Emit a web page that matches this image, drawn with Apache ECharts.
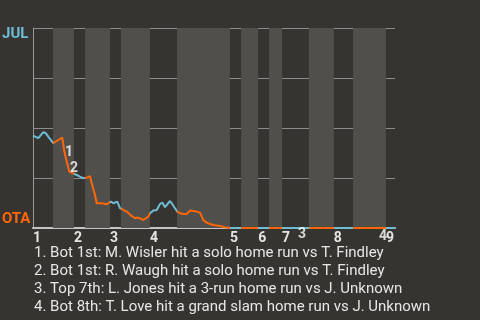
<!DOCTYPE html>
<html><head><meta charset="utf-8">
<script src="https://cdn.jsdelivr.net/npm/echarts@6/dist/echarts.min.js"></script>
<style>html,body{margin:0;padding:0;background:#363431;}#c{width:480px;height:320px;}</style>
</head><body><div id="c"></div>
<script>
// Half-inning boundaries along the game-progress axis (0..100)
var halfInningStarts = [0, 5.5, 11.3, 14.4, 21.3, 24.3, 32.3, 39.8, 54.4, 57.5, 62.2, 65.2, 68.8, 76.2, 83.1, 88.4, 97.5];
var gameEnd = 100;
var inningLabels = ['1','2','3','4','5','6','7','8','9'];
// Win probability for JUL (1 = JUL, 0 = OTA)
var progress = [0,1.46,2.85,3.51,4.42,5.61, 6.55,7.46,8.09,8.65,9.31,10.03,10.86, 12.07,12.98,13.9,
  15.0,15.75,16.22,17.13,17.6,18.98,19.42,20.36,20.99, 21.55,22.18,22.65,23.29,24.03,
  24.5,25.88,27.27,28.18,29.09,29.56,30.47,31.85, 32.32,33.23,34.17,35.08,35.72,36.46,36.93,37.85,38.31,39.23,39.86,
  40.61,41.52,42.46,43.37,43.84,45.22,46.13,47.04,47.98,48.9,50.28,51.66,53.04,54.42,
  57.5,62.2,65.2,68.8,76.2,83.1,88.4,97.5,100];
var winProb = [0.462,0.449,0.479,0.474,0.452,0.424, 0.435,0.445,0.452,0.382,0.332,0.282,0.275, 0.265,0.257,0.249,
  0.252,0.26,0.224,0.165,0.124,0.124,0.129,0.119,0.127, 0.132,0.124,0.119,0.132,0.099,
  0.094,0.082,0.06,0.049,0.052,0.049,0.04,0.057, 0.074,0.087,0.09,0.12,0.127,0.104,0.107,0.135,0.124,0.099,0.082,
  0.074,0.07,0.07,0.087,0.082,0.082,0.077,0.04,0.027,0.02,0.014,0.01,0.004,0,
  0,0,0,0,0,0,0,0,0];
// Home run markers
var hrNames = ['1','2','3','4'];
var hrProgress = [9.94, 11.33, 74.3, 96.7];
var hrProb = [0.38, 0.30, -0.03, -0.04];
var hrText = [
  '1. Bot 1st: M. Wisler hit a solo home run vs T. Findley',
  '2. Bot 1st: R. Waugh hit a solo home run vs T. Findley',
  '3. Top 7th: L. Jones hit a 3-run home run vs J. Unknown',
  '4. Bot 8th: T. Love hit a grand slam home run vs J. Unknown'
];
var awayTeam = 'JUL', homeTeam = 'OTA';
var awayColor = '#6cbcd6', homeColor = '#ff6608';

var chart = echarts.init(document.getElementById('c'), null, {renderer:'canvas'});
var lineData = progress.map(function(x,i){return [x, winProb[i]];});
var pieces = [], bands = [];
for (var i = 0; i < halfInningStarts.length; i++) {
  var a = halfInningStarts[i], b = (i+1 < halfInningStarts.length) ? halfInningStarts[i+1] : gameEnd + 1;
  pieces.push({gte: a, lt: b, color: (i % 2 === 0) ? awayColor : homeColor});
  if (i % 2 === 1) bands.push([{xAxis: a}, {xAxis: Math.min(b, gameEnd)}]);
}
var inningStarts = halfInningStarts.filter(function(v,i){return i % 2 === 0;});
var hrData = hrProgress.map(function(x,i){return {value:[x, hrProb[i]], name: hrNames[i]};});

var font = 'Roboto';
chart.setOption({
  backgroundColor: '#363431',
  animation: false,
  grid: {left: 33, right: 85, top: 28, bottom: 92, containLabel: false},
  xAxis: {
    type: 'value', min: 0, max: gameEnd, offset: 2,
    axisLine: {show: true, lineStyle: {color: '#c4c4c4', width: 2}},
    axisTick: {show: false},
    splitLine: {show: false},
    axisLabel: {
      customValues: inningStarts, align: 'left', margin: 1,
      color: '#e4e4e4', fontFamily: font, fontWeight: 'bold', fontSize: 14,
      formatter: function(v){
        var best = 0; for (var k = 0; k < inningStarts.length; k++) if (Math.abs(inningStarts[k]-v) < Math.abs(inningStarts[best]-v)) best = k;
        return inningLabels[best];
      }
    }
  },
  yAxis: {
    type: 'value', min: 0, max: 1, interval: 0.25,
    axisLine: {show: true, lineStyle: {color: '#9a9a9a', width: 1}},
    axisTick: {show: false}, axisLabel: {show: false},
    splitLine: {show: true, lineStyle: {color: '#8c8c8c', width: 1}}
  },
  visualMap: {show: false, type: 'piecewise', dimension: 0, seriesIndex: 1, pieces: pieces, outOfRange: {color: awayColor}},
  series: [
    {type: 'line', data: [], z: -1, silent: true,
     markArea: {silent: true, itemStyle: {color: '#504f4c'}, data: bands}},
    {type: 'line', data: lineData, showSymbol: false, symbol: 'none', lineStyle: {width: 2}, z: 3},
    {type: 'scatter', data: hrData, symbolSize: 0, clip: false, z: 4, silent: true,
     label: {show: true, position: 'inside', formatter: '{b}', color: '#ffffff', fontFamily: font, fontWeight: 'bold', fontSize: 14}}
  ]
});
var pTop = chart.convertToPixel({xAxisIndex:0, yAxisIndex:0}, [0, 1]);
var pBot = chart.convertToPixel({xAxisIndex:0, yAxisIndex:0}, [0, 0]);
var g = [
  {type:'text', x: 2, y: pTop[1] + 6, style:{text: awayTeam, fill: awayColor, font: 'bold 15px ' + font, verticalAlign: 'middle'}},
  {type:'text', x: 2, y: pBot[1] - 9, style:{text: homeTeam, fill: homeColor, font: 'bold 15px ' + font, verticalAlign: 'middle'}}
];
hrText.forEach(function(t, i){
  g.push({type:'text', x: 34, y: 253.5 + i*17.8, style:{text: t, fill: '#e6e6e6', font: '15px ' + font, verticalAlign: 'middle'}});
});
chart.setOption({graphic: g});
</script></body></html>
